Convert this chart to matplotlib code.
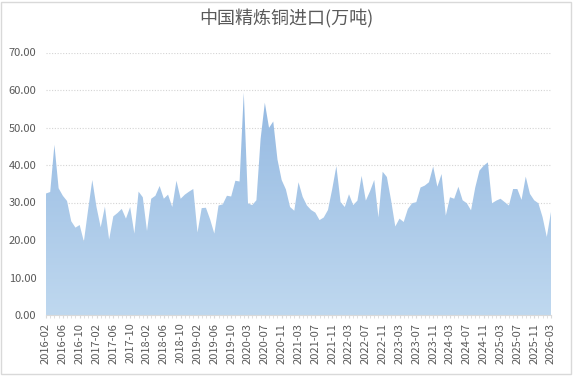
import numpy as np
import pandas as pd
import matplotlib
matplotlib.use('Agg')
import matplotlib.pyplot as plt
from matplotlib.colors import LinearSegmentedColormap
from matplotlib.patches import Rectangle

plt.rcParams['font.family'] = ['Noto Sans CJK SC', 'DejaVu Sans']

# monthly categories, Jan 2020 reported together with Feb
months = [str(p) for p in pd.period_range('2016-02', '2026-03', freq='M') if str(p) != '2020-01']

# 中国精炼铜进口, 万吨
imports = [
    32.4, 32.8, 45.4, 33.8, 31.8, 30.4, 25.0, 23.3, 24.0, 19.6,   # 2016-02 .. 2016-11
    28.0, 36.0, 28.8, 23.4, 28.9, 20.1, 26.3, 27.2, 28.3, 25.7,   # 2016-12 .. 2017-09
    28.8, 21.7, 32.9, 31.4, 22.4, 31.0, 31.8, 34.4, 31.0, 32.1,   # 2017-10 .. 2018-07
    28.8, 35.8, 31.0, 32.1, 32.9, 33.6, 22.0, 28.5, 28.6, 25.5,   # 2018-08 .. 2019-05
    21.7, 29.2, 29.5, 31.8, 31.6, 35.8, 35.6, 59.3, 29.8, 29.3,   # 2019-06 .. 2020-04
    30.6, 47.0, 56.6, 49.9, 51.6, 41.5, 36.0, 33.5, 28.8, 27.8,   # 2020-05 .. 2021-02
    35.4, 31.5, 29.2, 28.0, 27.3, 25.3, 26.0, 28.0, 33.5, 39.7,   # 2021-03 .. 2021-12
    30.1, 28.8, 32.2, 29.3, 30.5, 37.1, 30.5, 33.0, 36.0, 26.0,   # 2022-01 .. 2022-10
    38.2, 36.8, 30.6, 23.6, 25.7, 24.8, 28.3, 29.8, 30.1, 34.0,   # 2022-11 .. 2023-08
    34.5, 35.4, 39.6, 34.2, 37.6, 26.5, 31.4, 31.0, 34.2, 30.6,   # 2023-09 .. 2024-06
    29.8, 27.9, 34.0, 38.5, 39.8, 40.7, 29.8, 30.5, 31.0, 30.1,   # 2024-07 .. 2025-04
    29.2, 33.6, 33.6, 30.7, 36.9, 32.3, 30.6, 29.8, 26.1, 20.8,   # 2025-05 .. 2026-02
    27.5,                                                          # 2026-03
]

yticks = [0, 10, 20, 30, 40, 50, 60, 70]

grey = '#595959'
light = '#d9d9d9'

fig = plt.figure(figsize=(5.73, 3.76), dpi=100)
ax = fig.add_axes([46 / 573, 61 / 376, 505 / 573, 262.5 / 376])

x = np.arange(len(imports))
poly = ax.fill_between(x, imports, 0, facecolor='none', edgecolor='none')

# vertical gradient fill, clipped to the area
cmap = LinearSegmentedColormap.from_list('blue_fade', ['#bfd8ef', '#8cb3df'])
grad = np.linspace(0, 1, 256).reshape(-1, 1)
img = ax.imshow(grad, extent=[0, len(imports) - 1, 0, 70], origin='lower',
                aspect='auto', cmap=cmap, zorder=2, interpolation='bilinear')
img.set_clip_path(poly.get_paths()[0], transform=ax.transData)

ax.set_xlim(0, len(imports) - 1)
ax.set_ylim(0, 70)
ax.set_yticks(yticks)
ax.set_yticklabels(['%.2f' % v for v in yticks])
ax.set_xticks(x[::4])
ax.set_xticklabels(months[::4], rotation=90)
ax.set_xticks(x, minor=True)

ax.set_axisbelow(True)
ax.yaxis.grid(True, linestyle=(0, (1, 1.5)), color='#d4d4d4', linewidth=0.8)
for side in ['left', 'right', 'top']:
    ax.spines[side].set_visible(False)
ax.spines['bottom'].set_color(light)
ax.spines['bottom'].set_zorder(3)

ax.tick_params(axis='y', length=0, pad=7, labelsize=8, labelcolor=grey)
ax.tick_params(axis='x', which='both', length=2.5, color=light, direction='out')
ax.tick_params(axis='x', which='major', pad=3, labelsize=8, labelcolor=grey)

fig.text(0.5, 1 - 19 / 376, '中国精炼铜进口(万吨)', ha='center', va='center',
         fontsize=13, color=grey)

fig.patches.append(Rectangle((1 / 573, 2 / 376), 570 / 573, 372 / 376,
                             transform=fig.transFigure, fill=False,
                             edgecolor=light, linewidth=1))

fig.savefig('out.png', dpi=100)
